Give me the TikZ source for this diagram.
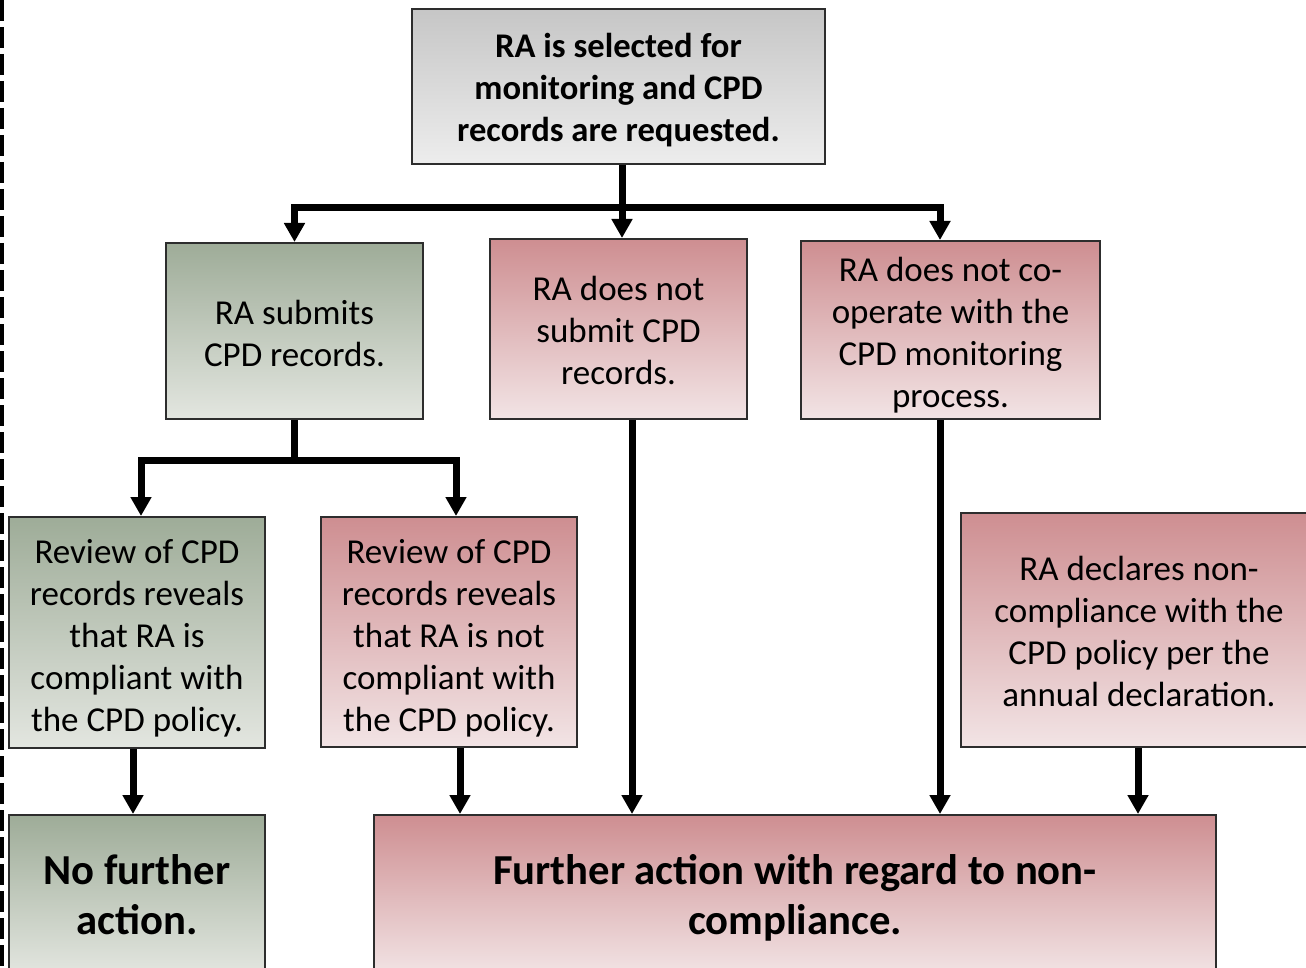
\documentclass[tikz,border=0pt]{standalone}
\usepackage{fontspec}
\setmainfont{Carlito}
\usetikzlibrary{arrows.meta,calc}
\definecolor{gtop}{RGB}{158,172,152}
\definecolor{gbot}{RGB}{227,230,224}
\definecolor{ptop}{RGB}{206,142,145}
\definecolor{pbot}{RGB}{242,228,229}
\definecolor{ktop}{RGB}{198,198,198}
\definecolor{kbot}{RGB}{237,237,237}
\definecolor{boxline}{RGB}{45,45,45}
\tikzset{
  box/.style={draw=boxline, line width=2pt, inner sep=0pt},
  gbox/.style={box, top color=gtop, bottom color=gbot},
  pbox/.style={box, top color=ptop, bottom color=pbot},
  kbox/.style={box, top color=ktop, bottom color=kbot},
  txt/.style={inner sep=0pt, align=center, font=\fontsize{35}{42}\selectfont},
  toptxt/.style={txt, font=\fontsize{34.6}{42}\selectfont\bfseries},
  bigtxt/.style={txt, font=\fontsize{42.7}{50}\selectfont\bfseries},
  conn/.style={line width=7pt, black},
  arr/.style={conn, -{Triangle[width=20pt,length=19pt]}},
}
\begin{document}
\begin{tikzpicture}[x=1pt,y=-1pt]
\useasboundingbox (0,0) rectangle (1306,968);
\clip (0,0) rectangle (1306,968);
\fill[white] (0,0) rectangle (1306,968);
\draw[line width=4pt, dash pattern=on 21pt off 6pt] (2,0) -- (2,968);

\node[kbox, minimum width=413, minimum height=155,
  label={[toptxt, yshift=-4pt]center:{RA is selected for\\monitoring and CPD\\records are requested.}}] (top) at (618.5,86.5) {};
\node[gbox, minimum width=257, minimum height=176,
  label={[txt, yshift=-2pt]center:{RA submits\\CPD records.}}] (b1) at (294.5,331) {};
\node[pbox, minimum width=257, minimum height=180,
  label={[txt, yshift=-1.5pt]center:{RA does not\\submit CPD\\records.}}] (b2) at (618.5,329) {};
\node[pbox, minimum width=299, minimum height=178,
  label={[txt, yshift=-5.5pt]center:{RA does not co-\\operate with the\\CPD monitoring\\process.}}] (b3) at (950.5,330) {};
\node[gbox, minimum width=256, minimum height=231,
  label={[txt, yshift=-5.5pt]center:{Review of CPD\\records reveals\\that RA is\\compliant with\\the CPD policy.}}] (b4) at (137,632.5) {};
\node[pbox, minimum width=256, minimum height=230,
  label={[txt, yshift=-6pt]center:{Review of CPD\\records reveals\\that RA is not\\compliant with\\the CPD policy.}}] (b5) at (449,632) {};
\node[pbox, minimum width=356, minimum height=234,
  label={[txt, yshift=-1.5pt]center:{RA declares non-\\compliance with the\\CPD policy per the\\annual declaration.}}] (b6) at (1139,630) {};
\node[gbox, minimum width=256, minimum height=160,
  label={[bigtxt]center:{No further\\action.}}] (b7) at (137,895) {};
\node[pbox, minimum width=842, minimum height=160,
  label={[bigtxt, yshift=-3pt]center:{Further action with regard to non-\\compliance.}}] (b8) at (795,895) {};

% top fan-out
\coordinate (bus1) at (622,208);
\coordinate (c3) at (940,208);
\draw[conn] (top.south -| bus1) -- (bus1);
\draw[arr] (bus1) -- (bus1 |- b2.north);
\draw[arr] (bus1) -| (b1.north);
\draw[arr] (bus1) -- (c3) -- (c3 |- b3.north);

% second fan-out
\coordinate (bus2) at (295,460);
\coordinate (c4) at (141,460);
\coordinate (c5) at (456,460);
\draw[conn] (b1.south) -- (b1.south |- bus2);
\draw[arr] (bus2) -- (c4) -- (c4 |- b4.north);
\draw[arr] (bus2) -- (c5) -- (c5 |- b5.north);

% down to outcomes
\coordinate (a4) at ($(b4.south)+(-4,0)$);
\coordinate (a5) at ($(b5.south)+(11,0)$);
\coordinate (a2) at ($(b2.south)+(13.5,0)$);
\coordinate (a3) at ($(b3.south)+(-10.5,0)$);
\coordinate (a6) at ($(b6.south)+(-1,0)$);
\draw[arr] (a4) -- (a4 |- b7.north);
\draw[arr] (a5) -- (a5 |- b8.north);
\draw[arr] (a2) -- (a2 |- b8.north);
\draw[arr] (a3) -- (a3 |- b8.north);
\draw[arr] (a6) -- (a6 |- b8.north);
\end{tikzpicture}
\end{document}
